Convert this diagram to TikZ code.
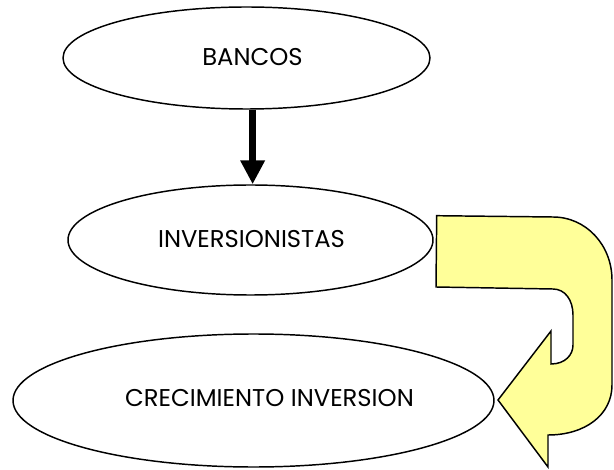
\documentclass[tikz,border=0pt]{standalone}
\usepackage{fontspec}
\setmainfont{Poppins}
\usetikzlibrary{shapes.geometric,arrows.meta}
\definecolor{paleyellow}{HTML}{FFFF99}
\begin{document}
\begin{tikzpicture}[x=0.75pt,y=-0.75pt,
  every label/.style={font=\fontsize{18.2}{20}\selectfont},
  oval/.style={draw, ellipse, line width=1.1pt, inner sep=0pt}]
\useasboundingbox (0,0) rectangle (614,470);
\node[oval, minimum width=275.25pt, minimum height=76.5pt,
  label={[xshift=4.5pt,yshift=0.5pt]center:BANCOS}] (1) at (246.5,58) {};
\node[oval, minimum width=273.75pt, minimum height=82.5pt,
  label={[xshift=0.75pt,yshift=0.5pt]center:INVERSIONISTAS}] (2) at (250.5,240) {};
\node[oval, minimum width=360.75pt, minimum height=99.75pt,
  label={[xshift=12pt,yshift=1.5pt]center:CRECIMIENTO INVERSION}] (3) at (253.5,400.5) {};
\path[draw,line width=5.25pt,-{Triangle[width=17.5pt,length=18pt]}] ([xshift=1.6pt]1.south -| 2.north) -- ([xshift=1.6pt]2.north);
\path[draw,line width=1.1pt,fill=paleyellow] (436.7,215.7) -- (553,217)
  .. controls (586,217) and (612,245) .. (612,280) -- (612,385)
  .. controls (612,415) and (585,435) .. (548,435) -- (548,467) -- (498,400)
  -- (551,331) -- (551,364) .. controls (565,364) and (573,355) .. (573,345)
  -- (573,315) .. controls (573,300) and (565,289) .. (553,289) -- (436,287) -- cycle;
\end{tikzpicture}
\end{document}
